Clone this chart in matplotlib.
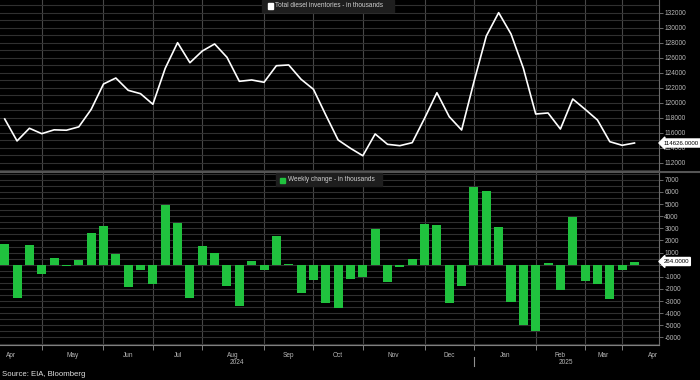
import numpy as np
import matplotlib
matplotlib.use("Agg")
import matplotlib.pyplot as plt
import matplotlib.transforms as mtransforms
from matplotlib.patches import Rectangle
from matplotlib.lines import Line2D

plt.rcParams['font.family'] = ['Liberation Sans', 'DejaVu Sans']
plt.rcParams['axes.unicode_minus'] = False

# weekly data, Apr 2024 - Mar 2025 (52 weeks)
inventories = [117830, 114900, 116590, 115870, 116380, 116330, 116780, 119100,
               122490, 123290, 121650, 121200, 119790, 124590, 128000, 125330,
               126890, 127830, 126050, 122850, 123030, 122720, 124930, 125030,
               123120, 121790, 118360, 115030, 113920, 112930, 115830, 114450,
               114270, 114670, 117920, 121330, 118130, 116360, 122800, 128890,
               132000, 129160, 124600, 118490, 118630, 116490, 120490, 119120,
               117690, 114800, 114320, 114626]
weekly_change = [1700, -2770, 1620, -740, 550, -110, 390, 2590, 3190, 880,
                 -1810, -440, -1590, 4920, 3440, -2770, 1540, 940, -1730, -3380,
                 300, -440, 2340, 80, -2310, -1290, -3130, -3545, -1180, -990,
                 2970, -1400, -160, 440, 3380, 3250, -3180, -1730, 6400, 6080,
                 3080, -3080, -4970, -5490, 110, -2060, 3900, -1320, -1570, -2850,
                 -460, 264]
# week index where each month starts (first week shown in that month)
month_starts = [-2, 3, 8, 12, 16, 21, 25, 29, 34, 38, 43, 47, 50, 55]
month_names = ['Apr', 'May', 'Jun', 'Jul', 'Aug', 'Sep', 'Oct', 'Nov', 'Dec',
               'Jan', 'Feb', 'Mar', 'Apr']
years = ['2024', '2025']
year_break = 38
last_inv = '114626.0000'
last_chg = '264.0000'

W, H = 700, 380
def fx(px):
    return px / W
def fy(py):
    return 1 - py / H

x = np.arange(len(inventories))
xlim = (-0.38, 52.96)
grid_x = month_starts[1:-1]
label_x = [(a + b) / 2 for a, b in zip(month_starts[:-1], month_starts[1:])]

GRID_H = '#303030'
GRID_V = '#474747'
SPINE = '#6a6a6a'
TXT = '#b8b8b8'
FS = 4.7

fig = plt.figure(figsize=(7, 3.8), dpi=100, facecolor='black')
ax1 = fig.add_axes([0, fy(172), fx(658.7), fy(0) - fy(172)])
ax2 = fig.add_axes([0, fy(344.7), fx(658.7), fy(173) - fy(344.7)])

for ax in (ax1, ax2):
    ax.set_facecolor('black')
    ax.set_xlim(*xlim)
    for s in ax.spines.values():
        s.set_visible(False)
    ax.spines['right'].set_visible(True)
    ax.spines['right'].set_color(SPINE)
    ax.yaxis.tick_right()
    ax.tick_params(axis='y', which='major', colors=SPINE, labelcolor=TXT,
                   labelsize=FS, length=3, width=0.7, pad=1)
    ax.tick_params(axis='y', which='minor', length=0)
    ax.grid(True, axis='y', which='both', color=GRID_H, lw=0.8)
    for g in grid_x:
        ax.axvline(g, color=GRID_V, lw=0.8, zorder=0.5)
    ax.set_axisbelow(True)

# top: inventories
ax1.plot(x, inventories, color='white', lw=1.2, zorder=3)
ax1.set_ylim(110760, 133690)
ax1.set_yticks(np.arange(112000, 132001, 2000))
ax1.set_yticks(np.arange(111000, 133001, 1000), minor=True)
ax1.set_xticks([])

# bottom: weekly change
ax2.bar(x, weekly_change, width=0.73, color='#20c23e', zorder=3)
ax2.set_ylim(-6595, 7560)
yt = np.arange(-6000, 7001, 1000)
ax2.set_yticks(yt)
ax2.set_yticklabels(['' if v == 0 else str(v) for v in yt])
ax2.set_yticks(np.arange(-6500, 7501, 500), minor=True)
ax2.spines['bottom'].set_visible(True)
ax2.spines['bottom'].set_color('#808080')
ax2.set_xticks(grid_x)
ax2.set_xticklabels([])
ax2.tick_params(axis='x', which='major', direction='out', length=3.5,
                width=0.7, colors='#808080')
ax2.set_xticks(label_x, minor=True)
ax2.set_xticklabels(month_names, minor=True)
ax2.tick_params(axis='x', which='minor', length=0, labelsize=FS,
                labelcolor=TXT, pad=5)

# year labels and separator
tr = mtransforms.blended_transform_factory(ax2.transData, fig.transFigure)
ax2.text((xlim[0] + year_break) / 2, fy(362), years[0], transform=tr,
         ha='center', va='center', fontsize=FS, color=TXT)
ax2.text((year_break + xlim[1]) / 2, fy(362), years[1], transform=tr,
         ha='center', va='center', fontsize=FS, color=TXT)
fig.add_artist(Line2D([year_break, year_break], [fy(357), fy(366)],
                      transform=tr, color='#909090', lw=0.8))

# panel separator
fig.add_artist(Line2D([0, 1], [fy(172.3), fy(172.3)], transform=fig.transFigure,
                      color='#555555', lw=1.5))

# legends
fig.add_artist(Rectangle((fx(262), fy(12)), fx(394) - fx(262), fy(0) - fy(12),
                         transform=fig.transFigure, color='#1e1e1e', zorder=5))
fig.add_artist(Rectangle((fx(267.5), fy(8.5)), fx(5), fy(0) - fy(5),
                         transform=fig.transFigure, color='white', zorder=6))
fig.text(fx(275), fy(5.8), 'Total diesel inventories - in thousands',
         fontsize=FS, color='#d0d0d0', va='center', ha='left', zorder=6)

fig.add_artist(Rectangle((fx(276), fy(186)), fx(382) - fx(276), fy(173) - fy(186),
                         transform=fig.transFigure, color='#1e1e1e', zorder=5))
fig.add_artist(Rectangle((fx(280), fy(182.5)), fx(4.5), fy(0) - fy(4.5),
                         transform=fig.transFigure, color='#20c23e', zorder=6))
fig.text(fx(288), fy(179.5), 'Weekly change - in thousands',
         fontsize=FS, color='#d0d0d0', va='center', ha='left', zorder=6)

# last value tags
t1 = mtransforms.blended_transform_factory(ax1.transAxes, ax1.transData)
ax1.text(1.007, inventories[-1], last_inv, transform=t1, ha='left', va='center',
         fontsize=4.4, color='black', clip_on=False, zorder=10,
         bbox=dict(boxstyle='larrow,pad=0.25', fc='white', ec='white'))
t2 = mtransforms.blended_transform_factory(ax2.transAxes, ax2.transData)
ax2.text(1.007, weekly_change[-1], last_chg, transform=t2, ha='left', va='center',
         fontsize=4.4, color='black', clip_on=False, zorder=10,
         bbox=dict(boxstyle='larrow,pad=0.25', fc='white', ec='white'))

fig.text(fx(2), fy(374), 'Source: EIA, Bloomberg', fontsize=5.6,
         color='#e0e0e0', ha='left', va='center')

fig.savefig('out.png', dpi=100, facecolor='black')
